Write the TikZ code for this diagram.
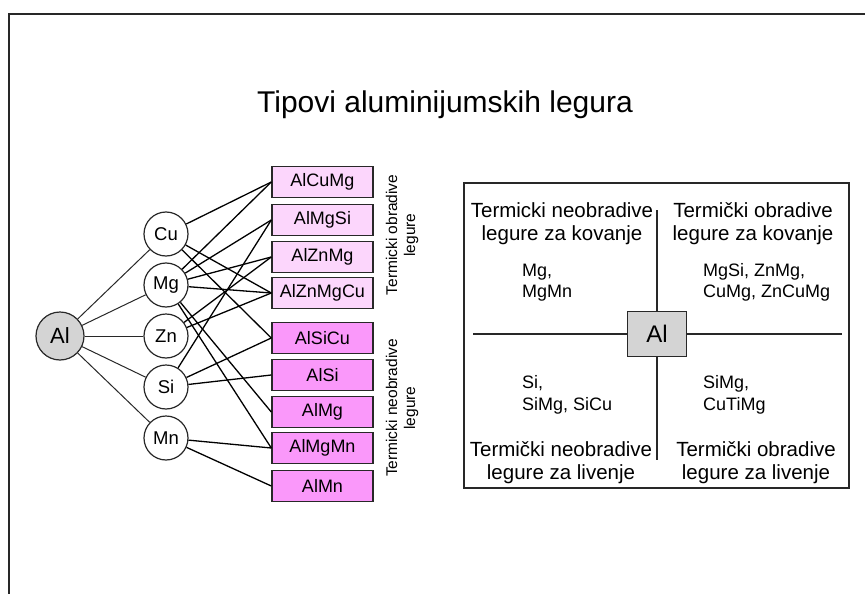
\documentclass[tikz,border=0pt]{standalone}
\usepackage{fontspec}
\setmainfont{Liberation Sans}
\definecolor{pinkA}{RGB}{252,214,252}
\definecolor{pinkB}{RGB}{250,152,250}
\definecolor{alg}{RGB}{212,212,212}
\definecolor{edge}{RGB}{40,40,40}
\begin{document}
\begin{tikzpicture}[x=1pt,y=-1pt,
  elem/.style={circle,draw=edge,line width=1.2pt,minimum size=44pt,inner sep=0pt,fill=white,font=\fontsize{18.5}{20}\selectfont},
  alloyA/.style={rectangle,draw=edge,line width=1.4pt,minimum width=101pt,minimum height=31pt,inner sep=0pt,fill=pinkA,font=\fontsize{18}{20}\selectfont},
  alloyB/.style={alloyA,fill=pinkB},
  link/.style={line width=1.3pt,black},
  alink/.style={line width=1pt,edge},
  txt/.style={inner sep=0pt,align=center},
  head/.style={txt,font=\fontsize{20.5}{23}\selectfont},
  cont/.style={inner sep=0pt,align=left,anchor=west,font=\fontsize{18}{21.5}\selectfont},
  side/.style={txt,rotate=90,font=\fontsize{15.5}{18}\selectfont}
]
\useasboundingbox (0,0) rectangle (865,594);
\fill[white] (0,0) rectangle (865,594);
\draw[line width=2pt,edge] (9,594) -- (9,14) -- (865,14);

\node[txt,anchor=base,font=\fontsize{30}{34}\selectfont] (title) at (445,113) {Tipovi aluminijumskih legura};

% left graph
\node[elem,minimum size=48pt,fill=alg,font=\fontsize{22}{24}\selectfont] (Al) at (60,336) {Al};
\node[elem] (Cu) at (166,234) {Cu};
\node[elem] (Mg) at (166,285) {Mg};
\node[elem] (Zn) at (166,336) {Zn};
\node[elem] (Si) at (166,387) {Si};
\node[elem] (Mn) at (166,438) {Mn};

\node[alloyA] (bCuMg) at (322.5,182) {AlCuMg};
\node[alloyA] (bMgSi) at (322.5,220) {AlMgSi};
\node[alloyA] (bZnMg) at (322.5,257) {AlZnMg};
\node[alloyA] (bZnMgCu) at (322.5,293) {AlZnMgCu};
\node[alloyB] (bSiCu) at (322.5,338) {AlSiCu};
\node[alloyB] (bSi) at (322.5,375) {AlSi};
\node[alloyB] (bMg) at (322.5,412) {AlMg};
\node[alloyB] (bMgMn) at (322.5,448) {AlMgMn};
\node[alloyB] (bMn) at (322.5,486) {AlMn};

\foreach \e in {Cu,Mg,Zn,Si,Mn} \draw[alink] (Al) -- (\e);

\draw[link] (Cu) -- (bCuMg.west);
\draw[link] (Cu) -- (bZnMgCu.west);
\draw[link] (Cu) -- (bSiCu.west);
\draw[link] (Mg) -- (bCuMg.west);
\draw[link] (Mg) -- (bMgSi.west);
\draw[link] (Mg) -- (bZnMg.west);
\draw[link] (Mg) -- (bZnMgCu.west);
\draw[link] (Mg) -- (bMg.west);
\draw[link] (Mg) -- (bMgMn.west);
\draw[link] (Zn) -- (bZnMg.west);
\draw[link] (Zn) -- (bZnMgCu.west);
\draw[link] (Si) -- (bMgSi.west);
\draw[link] (Si) -- (bSiCu.west);
\draw[link] (Si) -- (bSi.west);
\draw[link] (Mn) -- (bMgMn.west);
\draw[link] (Mn) -- (bMn.west);

\node[side] (lblA) at (402,235) {Termicki obradive\\legure};
\node[side] (lblB) at (402,408) {Termicki neobradive\\legure};

% right panel
\draw[line width=1.4pt,edge] (464,183) rectangle (849,488);
\draw[line width=1.1pt,edge] (473,334) -- (842,334);
\draw[line width=1.1pt,edge] (657,210) -- (657,460);
\node[draw=edge,line width=1.4pt,fill=alg,minimum width=59pt,minimum height=45pt,inner sep=0pt,font=\fontsize{24}{26}\selectfont] (AlQ) at (657,334) {Al};

\node[head] (h1) at (562,223.5) {Termicki neobradive\\legure za kovanje};
\node[head] (h2) at (753,223.5) {Termički obradive\\legure za kovanje};
\node[head] (h3) at (561,462.5) {Termički neobradive\\legure za livenje};
\node[head] (h4) at (756,462.5) {Termički obradive\\legure za livenje};

\node[cont] (c1) at (522,282.5) {Mg,\\MgMn};
\node[cont] (c2) at (703,282.5) {MgSi, ZnMg,\\CuMg, ZnCuMg};
\node[cont] (c3) at (522,395) {Si,\\SiMg, SiCu};
\node[cont] (c4) at (703,395) {SiMg,\\CuTiMg};
\end{tikzpicture}
\end{document}
